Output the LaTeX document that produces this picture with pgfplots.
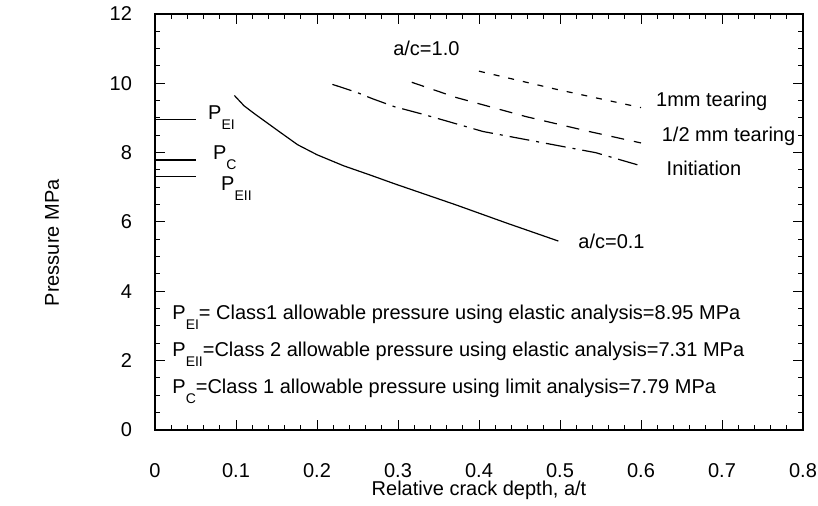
\documentclass[border=0pt]{standalone}
\usepackage{fontspec}
\setmainfont{Liberation Sans}
\usepackage{pgfplots}
\pgfplotsset{compat=1.18}

% lowered subscript as in the scanned figure
\newcommand{\sub}[1]{\raisebox{-0.5em}{\fontsize{7}{8}\selectfont #1}}

\begin{document}
\begin{tikzpicture}
\useasboundingbox (-77.5pt,-38pt) rectangle (331.5pt,215pt);
\begin{axis}[
    at={(0,0)}, anchor=south west,
    scale only axis,
    width=324pt, height=208pt,
    xmin=0, xmax=0.8, ymin=0, ymax=12,
    xtick={0,0.1,0.2,0.3,0.4,0.5,0.6,0.7,0.8},
    ytick={0,2,4,6,8,10,12},
    minor x tick num=4, minor y tick num=3,
    tick align=inside,
    major tick length=5pt, minor tick length=2.5pt,
    tick style={black, line width=0.5pt},
    axis line style={line width=0.6pt},
    font=\fontsize{10}{12}\selectfont,
    /pgf/number format/assume math mode=true,
    /pgf/number format/fixed,
    xticklabel style={yshift=-13pt},
    yticklabel style={xshift=-8pt},
    xlabel={Relative crack depth, a/t},
    ylabel={Pressure MPa},
    xlabel style={at={(axis description cs:0.5,-0.144)}, anchor=center},
    ylabel style={at={(axis description cs:-0.159,0.45)}, anchor=center},
    clip=false,
]
% allowable pressure marks
\addplot[black, line width=0.6pt] coordinates {(0,8.95) (0.05,8.95)};
\addplot[black, line width=0.6pt] coordinates {(0,7.79) (0.05,7.79)};
\addplot[black, line width=0.6pt] coordinates {(0,7.31) (0.05,7.31)};

% a/c=0.1
\addplot[black, line width=0.6pt] coordinates {
    (0.098,9.65) (0.11,9.35) (0.123,9.12) (0.155,8.58) (0.176,8.23)
    (0.2,7.94) (0.233,7.62) (0.265,7.36) (0.296,7.10) (0.372,6.49)
    (0.434,5.97) (0.498,5.45)
};
% initiation
\addplot[black, line width=0.6pt, dash pattern=on 10pt off 3.5pt on 1.5pt off 3.5pt] coordinates {
    (0.219,9.97) (0.249,9.74) (0.268,9.56) (0.295,9.33) (0.332,9.10)
    (0.405,8.61) (0.471,8.32) (0.544,8.00) (0.600,7.62)
};
% 1/2 mm tearing
\addplot[black, line width=0.6pt, dash pattern=on 6.5pt off 5pt] coordinates {
    (0.317,10.03) (0.372,9.59) (0.458,9.04) (0.536,8.61) (0.600,8.28)
};
% 1 mm tearing
\addplot[black, line width=0.6pt, dash pattern=on 3pt off 4.5pt] coordinates {
    (0.400,10.35) (0.495,9.83) (0.600,9.30)
};

\node[anchor=base west] at (axis cs:0.057,8.95) {P\sub{EI}};
\node[anchor=base west] at (axis cs:0.063,7.80) {P\sub{C}};
\node[anchor=base west] at (axis cs:0.073,6.90) {P\sub{EII}};

\node at (axis cs:0.335,11.0) {a/c=1.0};
\node[anchor=west] at (axis cs:0.610,9.48) {1mm tearing};
\node[anchor=west] at (axis cs:0.617,8.47) {1/2 mm tearing};
\node[anchor=west] at (axis cs:0.623,7.54) {Initiation};
\node[anchor=west] at (axis cs:0.514,5.43) {a/c=0.1};

\node[anchor=base west, inner sep=0pt] at (axis cs:0.021,3.20) {P\sub{EI}= Class1 allowable pressure using elastic analysis=8.95 MPa};
\node[anchor=base west, inner sep=0pt] at (axis cs:0.021,2.12) {P\sub{EII}=Class 2 allowable pressure using elastic analysis=7.31 MPa};
\node[anchor=base west, inner sep=0pt] at (axis cs:0.021,1.06) {P\sub{C}=Class 1 allowable pressure using limit analysis=7.79 MPa};
\end{axis}
\end{tikzpicture}
\end{document}
